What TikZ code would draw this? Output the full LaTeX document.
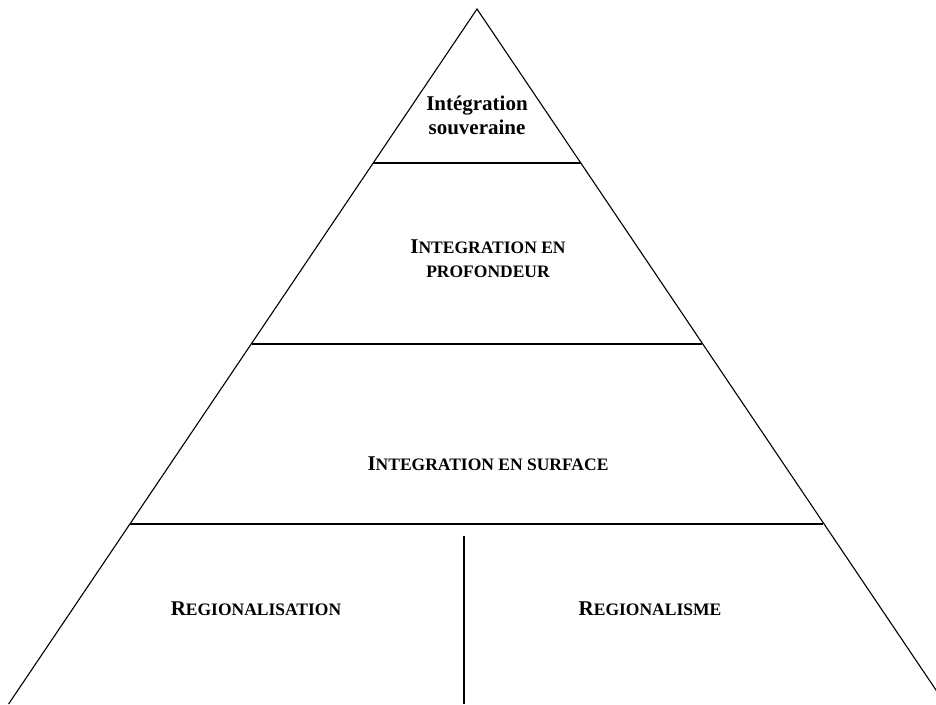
\documentclass[tikz,border=0pt]{standalone}
\usepackage{fontspec}
\setmainfont{Liberation Serif}
\newcommand\fsc[2]{#1{\fontsize{17.5}{20}\selectfont #2}}
\begin{document}
\begin{tikzpicture}[x=1pt,y=1pt,
  side/.style={line width=1.1pt},
  level/.style={line width=2pt},
  lbl/.style={font=\bfseries\fontsize{21}{24}\selectfont, align=center, inner sep=0pt, anchor=base}]
\useasboundingbox (0,0) rectangle (936,704);
\clip (0,0) rectangle (936,704);
\coordinate (apex) at (477,695);
\coordinate (bl) at (8.6,0);
\coordinate (br) at (945.4,0);
\draw[side] (bl) -- (apex) -- (br);
\coordinate (l1a) at (373,541); \coordinate (l1b) at (581,541);
\coordinate (l2a) at (252,360); \coordinate (l2b) at (702,360);
\coordinate (l3a) at (130,180); \coordinate (l3b) at (823,180);
\coordinate (vt) at (464,168); \coordinate (vb) at (464,0);
\draw[level] (l1a) -- (l1b);
\draw[level] (l2a) -- (l2b);
\draw[level] (l3a) -- (l3b);
\draw[level] (vt) -- (vb);
\node[lbl] (t1) at (477,569) {Intégration\\souveraine};
\node[lbl] (t2) at (488,426) {\fsc{I}{NTEGRATION EN}\\\fsc{}{PROFONDEUR}};
\node[lbl] (t3) at (488,233) {\fsc{I}{NTEGRATION EN SURFACE}};
\node[lbl] (t4) at (256,89) {\fsc{R}{EGIONALISATION}};
\node[lbl] (t5) at (650,89) {\fsc{R}{EGIONALISME}};
\end{tikzpicture}
\end{document}
